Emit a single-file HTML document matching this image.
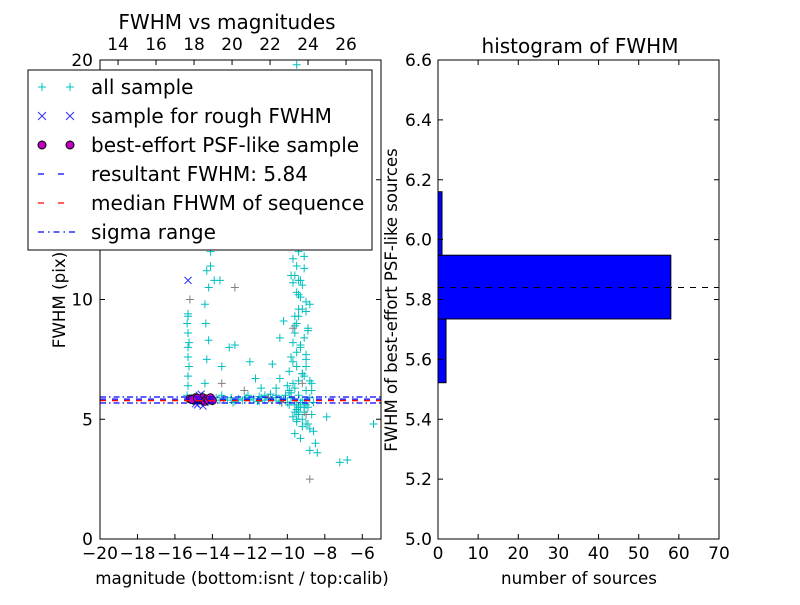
<!DOCTYPE html>
<html><head><meta charset="utf-8"><style>
body{margin:0;background:#fff}
svg text{font-family:"DejaVu Sans","Liberation Sans",sans-serif;fill:#000}
</style></head><body>
<svg id="c" width="800" height="600" xmlns="http://www.w3.org/2000/svg"></svg>
<script>
// ---- data ----
const allMag=[-15.3,-15.2,-15.1,-15.0,-14.9,-14.8,-14.6,-14.4,-14.2,-14.0,-13.8,-13.6,-13.4,-13.2,-13.0,-12.8,-12.6,-12.4,-12.2,-12.0,-11.8,-11.6,-11.4,-11.2,-11.0,-10.8,-10.6,-10.4,-10.2,-10.0,-9.8,-9.6,-9.4,-9.2,-9.0,-8.8,-8.6,-13.5,-12.9,-12.1,-11.5,-10.9,-10.3,-9.9,-9.5,-9.1,-8.7,
-15.35,-15.3,-15.3,-15.25,-15.3,-15.3,-15.25,-15.3,-15.35,-15.3,-15.3,-15.3,-15.25,
-14.4,-14.3,-14.2,-14.35,-14.4,-14.2,-14.3,-14.1,-14.4,-14.25,-14.0,-14.3,-13.9,-14.1,
-13.6,-13.1,-13.5,-12.8,-12.0,-11.7,-11.4,-10.8,-10.4,
-10.0,-9.9,-9.8,-9.7,-9.6,-9.5,-9.4,-9.3,-9.2,-9.6,-9.5,-9.4,-9.3,-9.5,-9.4,-9.6,-9.3,-9.5,-9.4,-9.6,-9.7,-9.3,-9.2,-9.5,-9.4,-9.6,-9.3,-9.5,-9.1,-9.0,-8.9,-8.8,-8.7,-9.0,-9.2,-9.8,-10.2,-10.4,-10.6,-9.9,-9.5,-9.4,-9.2,-9.0,-8.8,-9.6,-9.3,-9.5,-9.7,-9.4,-9.1,-8.9,-8.6,-8.5,-8.4,-7.9,-7.2,-6.8,-5.4,-9.7,-9.1,-8.8,-9.3,-9.9,-10.1,-9.5,-9.6,
-9.8,-9.6,-9.4,-9.2,-9.0,-9.7,-9.5,-9.3,-9.1,-8.9,-9.6,-9.4,-9.2,-9.0,-9.5,-9.3,-9.1,-9.7,-9.4,-9.2,-9.0,-8.8,-9.6,-9.3,-9.5,-9.2,-9.4,-9.8,-10.1,-10.3,-10.6,-10.9,-11.2,-11.5,-9.9,-9.7,-9.5,-9.3,-9.1,-8.9,-8.7,-9.0,-9.4,-9.6,-9.2];
const allFwhm=[5.85,5.8,5.9,5.75,5.85,5.8,5.9,5.8,5.85,5.75,5.9,5.8,5.85,5.8,5.9,5.75,5.85,5.8,5.9,5.8,5.85,5.75,5.9,5.8,5.85,5.8,5.9,5.75,5.85,5.7,5.9,5.6,5.5,5.8,5.6,5.9,5.7,6.0,5.7,6.0,5.75,6.05,5.7,6.1,5.4,5.3,5.2,
6.0,6.4,6.8,7.2,7.6,8.0,8.2,8.6,9.0,9.4,9.3,12.5,13.8,
6.5,7.5,8.3,9.0,9.8,10.5,11.2,12.0,12.6,13.2,13.5,14.5,10.8,11.4,
10.8,8.0,7.2,8.1,7.4,6.7,6.3,7.3,6.7,
6.4,7.0,7.6,8.2,8.6,9.0,9.6,10.1,10.6,11.0,11.4,12.0,12.4,12.8,13.4,14.0,14.6,15.1,15.7,16.3,17.0,17.6,18.5,19.2,10.8,9.3,8.0,7.2,6.8,7.5,8.8,9.8,6.5,6.2,6.9,11.0,9.1,8.4,6.3,5.6,5.4,5.2,5.0,4.8,4.6,4.4,4.2,4.9,5.1,5.3,5.5,4.8,4.5,4.0,3.6,5.1,3.2,3.3,4.8,10.7,11.8,3.7,12.5,16.0,13.0,19.8,16.6,
6.1,6.3,6.6,6.9,7.2,7.4,7.8,8.1,8.4,8.7,8.9,9.3,9.6,9.9,10.3,10.8,11.3,11.7,12.2,12.9,7.7,6.6,5.3,5.5,5.0,4.7,6.0,5.9,6.0,5.8,6.0,5.9,6.0,5.95,6.2,6.5,5.6,5.7,5.6,5.5,6.2,9.5,10.2,13.6,14.8];
const grayMag=[-15.2,-13.5,-12.3,-11.0,-9.7,-9.2,-8.8,-9.5,-10.3,-9.0,-12.8];
const grayFwhm=[10.0,6.5,6.2,5.9,8.8,6.5,2.5,12.8,5.7,5.2,10.5];
const roughMag=[-15.3,-14.9,-14.7,-14.5,-14.6,-14.4,-14.8,-15.1,-14.3];
const roughFwhm=[10.8,5.65,6.0,5.55,6.05,5.7,5.6,5.85,5.8];
const bestMag=[-15.2,-15.0,-14.9,-14.7,-14.6,-14.5,-14.4,-14.3,-14.2,-14.1,-14.0,-15.1,-14.8];
const bestFwhm=[5.85,5.8,5.9,5.8,5.85,5.9,5.75,5.85,5.8,5.9,5.78,5.82,5.88];
const resultFwhm=5.84, medianFwhm=5.78, sigmaLo=5.68, sigmaHi=5.93;
const histLo=[5.522,5.735,5.948];
const histHi=[5.735,5.948,6.16];
const histCount=[2,58,1];
const xTicksL=[-20,-18,-16,-14,-12,-10,-8,-6];
const topTicks=[14,16,18,20,22,24,26];
const yTicksL=[0,5,10,15,20];
const xTicksR=[0,10,20,30,40,50,60,70];
const yTicksR=[5.0,5.2,5.4,5.6,5.8,6.0,6.2,6.4,6.6];

const svg=document.getElementById('c');
const NS='http://www.w3.org/2000/svg';
function el(t,a,p){const e=document.createElementNS(NS,t);for(const k in a)e.setAttribute(k,a[k]);(p||svg).appendChild(e);return e;}
const L={x0:100,x1:381,y0:539,y1:60};
const lx=v=>L.x0+(v+20)/15*(L.x1-L.x0);
const ly=v=>L.y0-v/20*(L.y0-L.y1);
const tx=v=>L.x0+(v-13.05)/(27.84-13.05)*(L.x1-L.x0);

const gL=el('g',{});


el('rect',{x:L.x0,y:L.y1,width:L.x1-L.x0,height:L.y0-L.y1,fill:'#fff'},gL);
const clipD=el('defs',{});
const cp=el('clipPath',{id:'cl'},clipD);el('rect',{x:L.x0,y:L.y1,width:L.x1-L.x0,height:L.y0-L.y1},cp);
const pts=el('g',{'clip-path':'url(#cl)'},gL);
function plus(x,y,c,g,n){const p=el('path',{d:`M${x-4},${y}h8M${x},${y-4}v8`,stroke:c,'stroke-width':1,fill:'none'},g);}
allMag.forEach((m,i)=>plus(lx(m),ly(allFwhm[i]),'#00bfbf',pts,'all-sample-point'));
grayMag.forEach((m,i)=>plus(lx(m),ly(grayFwhm[i]),'#808080',pts,'calib-sample-point'));
roughMag.forEach((m,i)=>{const x=lx(m),y=ly(roughFwhm[i]);const p=el('path',{d:`M${x-3.5},${y-3.5}l7,7M${x-3.5},${y+3.5}l7,-7`,stroke:'#3030ff','stroke-width':1},pts);});
bestMag.forEach((m,i)=>{const c=el('circle',{cx:lx(m),cy:ly(bestFwhm[i]),r:4,fill:'#bf00bf',stroke:'#000','stroke-width':0.8},pts);});
function hl(v,c,dash,n){const l=el('line',{x1:L.x0,x2:L.x1,y1:ly(v),y2:ly(v),stroke:c,'stroke-width':1.3,'stroke-dasharray':dash},pts);}
hl(resultFwhm,'#0000ff','6,6','resultant-fwhm-line');
hl(medianFwhm,'#ff0000','6,6','median-fwhm-line');
hl(sigmaLo,'#0000ff','6,3,1.5,3','sigma-low-line');
hl(sigmaHi,'#0000ff','6,3,1.5,3','sigma-high-line');
el('rect',{x:L.x0,y:L.y1,width:L.x1-L.x0,height:L.y0-L.y1,fill:'none',stroke:'#000'},gL);
xTicksL.forEach(v=>{const x=lx(v);el('path',{d:`M${x},${L.y0}v-5`,stroke:'#000'},gL);const t=el('text',{x:x,y:559,'font-size':17,'text-anchor':'middle'},gL);t.textContent=(v<0?'\u2212'+(-v):v);});
topTicks.forEach(v=>{const x=tx(v);el('path',{d:`M${x},${L.y1}v5`,stroke:'#000'},gL);const t=el('text',{x:x,y:50,'font-size':17,'text-anchor':'middle'},gL);t.textContent=v;});
yTicksL.forEach(v=>{const y=ly(v);el('path',{d:`M${L.x0},${y}h5M${L.x1},${y}h-5`,stroke:'#000'},gL);const t=el('text',{x:93,y:y+6,'font-size':17,'text-anchor':'end'},gL);t.textContent=v;});
</script>
<script>
(function(){
const svg=document.getElementById('c');const NS='http://www.w3.org/2000/svg';
function el(t,a,p){const e=document.createElementNS(NS,t);for(const k in a)e.setAttribute(k,a[k]);(p||svg).appendChild(e);return e;}
function txt(s,a,n){const t=el('text',a);t.textContent=s;return t;}
txt('FWHM vs magnitudes',{x:227,y:29,'font-size':20,'text-anchor':'middle'},'left-title');
txt('magnitude (bottom:isnt / top:calib)',{x:242,y:584,'font-size':16.7,'text-anchor':'middle'},'left-x-axis-title');
txt('FWHM (pix)',{x:0,y:0,'font-size':16.7,'text-anchor':'middle',transform:'translate(65,300) rotate(-90)'},'left-y-axis-title');
const lg=el('g',{});
el('rect',{x:28,y:70,width:344,height:180,fill:'#fff',stroke:'#000'},lg);
const items=['all sample','sample for rough FWHM','best-effort PSF-like sample','resultant FWHM: 5.84','median FHWM of sequence','sigma range'];
items.forEach((s,i)=>{const y=87+i*29;
 const g=el('g',{},lg);
 if(i==0){[42,70].forEach(x=>el('path',{d:`M${x-4},${y}h8M${x},${y-4}v8`,stroke:'#00bfbf'},g));}
 if(i==1){[42,70].forEach(x=>el('path',{d:`M${x-4},${y-4}l8,8M${x-4},${y+4}l8,-8`,stroke:'#3030ff'},g));}
 if(i==2){[42,70].forEach(x=>el('circle',{cx:x,cy:y,r:4,fill:'#bf00bf',stroke:'#000'},g));}
 if(i==3)el('line',{x1:38,x2:76,y1:y,y2:y,stroke:'#0000ff','stroke-width':1.3,'stroke-dasharray':'6,14'},g);
 if(i==4)el('line',{x1:38,x2:76,y1:y,y2:y,stroke:'#ff0000','stroke-width':1.3,'stroke-dasharray':'6,14'},g);
 if(i==5)el('line',{x1:38,x2:76,y1:y,y2:y,stroke:'#0000ff','stroke-width':1.3,'stroke-dasharray':'6,4,1.5,4'},g);
 const t=el('text',{x:91,y:y+7,'font-size':20},g);t.textContent=s;});
const R={x0:438,x1:719,y0:539,y1:60};
const rx=v=>R.x0+v/70*(R.x1-R.x0);
const ry=v=>R.y0-(v-5)/1.6*(R.y0-R.y1);
const g=el('g',{});
histCount.forEach((c,i)=>{const r=el('rect',{x:rx(0),y:ry(histHi[i]),width:rx(c)-rx(0),height:ry(histLo[i])-ry(histHi[i]),fill:'#0000ff',stroke:'#000'},g);});
const dl=el('line',{x1:R.x0,x2:R.x1,y1:ry(resultFwhm),y2:ry(resultFwhm),stroke:'#000','stroke-dasharray':'6,6'},g);

el('rect',{x:R.x0,y:R.y1,width:R.x1-R.x0,height:R.y0-R.y1,fill:'none',stroke:'#000'},g);
xTicksR.forEach(v=>{const x=rx(v);el('path',{d:`M${x},${R.y0}v-5M${x},${R.y1}v5`,stroke:'#000'},g);txt(v,{x:x,y:559,'font-size':17,'text-anchor':'middle'},'hist-x-tick-label');});
yTicksR.forEach(v=>{const y=ry(v);el('path',{d:`M${R.x0},${y}h5M${R.x1},${y}h-5`,stroke:'#000'},g);txt(v.toFixed(1),{x:432,y:y+6,'font-size':17,'text-anchor':'end'},'hist-y-tick-label');});
txt('histogram of FWHM',{x:580,y:53,'font-size':20,'text-anchor':'middle'},'hist-title');
txt('number of sources',{x:579,y:584,'font-size':16.7,'text-anchor':'middle'},'hist-x-axis-title');
txt('FWHM of best-effort PSF-like sources',{x:0,y:0,'font-size':16.5,'text-anchor':'middle',transform:'translate(397,300) rotate(-90)'},'hist-y-axis-title');
})();
</script>
</body></html>
